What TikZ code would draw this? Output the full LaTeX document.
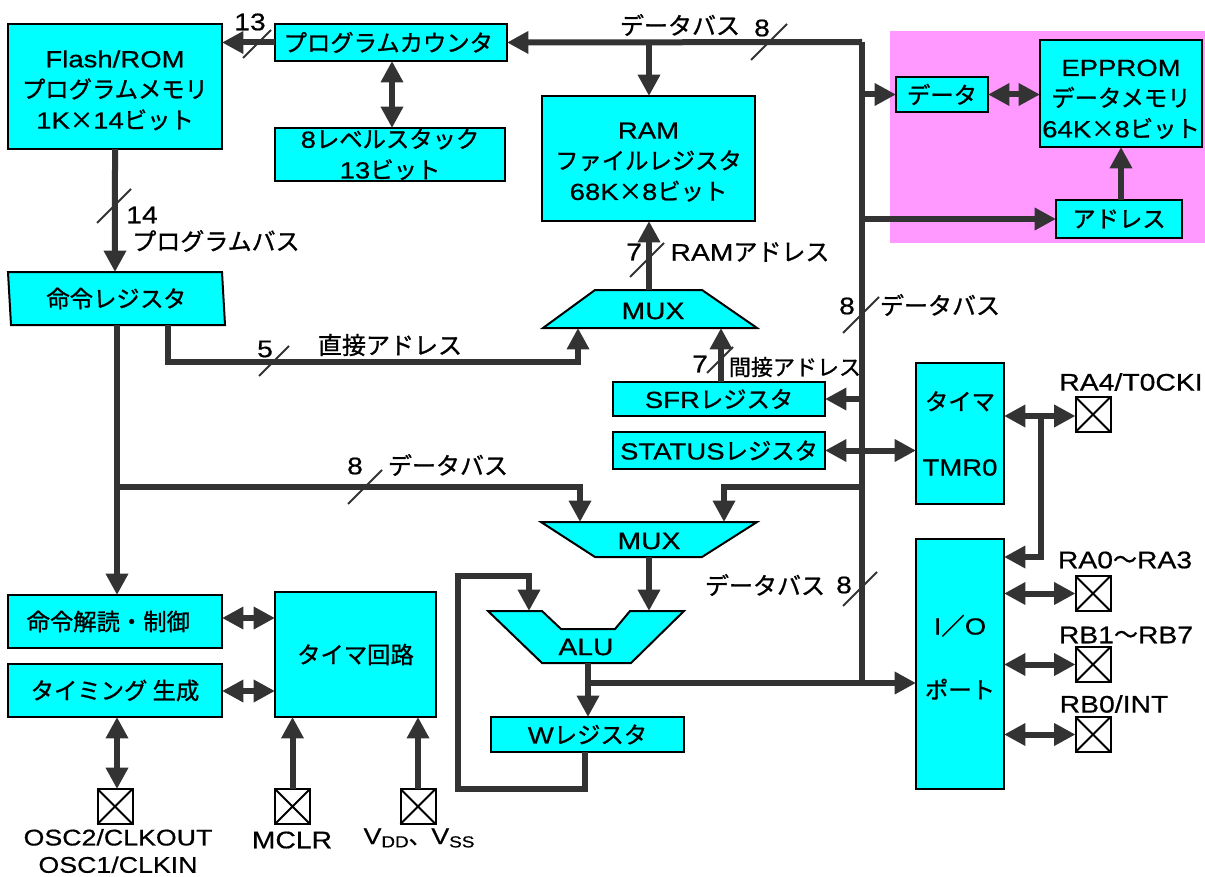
\documentclass[tikz,border=0pt]{standalone}
\usepackage{fontspec}
\setmainfont{Noto Sans CJK JP}[FakeBold=1]
\newfontfamily\latnfont{Liberation Sans}[FakeStretch=1.18,FakeBold=0.6]
\usepackage{xcolor}
\usetikzlibrary{arrows.meta}
\definecolor{blkcyan}{HTML}{00FFFF}
\definecolor{buscol}{HTML}{333333}
\definecolor{eepink}{HTML}{FF99FF}
\def\px{0.75pt}
\newcommand{\ltn}[1]{{\latnfont #1}}
\newcommand{\lowtxt}[1]{\raisebox{-2.5pt}{\fontsize{12}{12}\latnfont #1}}
\newcommand{\dn}[1]{\rule{0pt}{#1}}

\begin{document}
\begin{tikzpicture}[x=0.75pt,y=-0.75pt,
        blk/.style={draw=black,fill=blkcyan,line width=1.5pt,inner sep=0pt,outer sep=0pt,align=center,
                    font=\fontsize{17.5}{23}\selectfont},
        sz/.style 2 args={minimum width=#1*\px,minimum height=#2*\px},
        poly/.style={draw=black,fill=blkcyan,line width=1.5pt,line join=miter},
        lbl/.style={inner sep=0pt,align=center,font=\fontsize{18}{21}\selectfont},
        bus/.style={draw=buscol,line width=4.5pt,-{Triangle[length=16pt,width=16pt]}},
        dbl/.style={draw=buscol,line width=4.5pt,{Triangle[length=16pt,width=16pt]}-{Triangle[length=16pt,width=16pt]}},
        wire/.style={draw=buscol,line width=4.5pt,line cap=square},
        slash/.style={draw=buscol,line width=1.5pt},
        pad/.style={draw=black,fill=white,line width=1.5pt,inner sep=0pt,outer sep=0pt,minimum size=35*\px}]
        \useasboundingbox (0,0) rectangle (1205,877);
        \fill[eepink] (890,31) rectangle (1205,243);

        % blocks
        \node[blk,sz={214}{125}] (flash) at (115,86.5) {\dn{18.5pt}\ltn{Flash/ROM}\\プログラムメモリ\\\ltn{1K}×\ltn{14}ビット};
        \node[blk,sz={232}{37}] (pc) at (391,42.5) {プログラムカウンタ\hspace{4pt}};
        \node[blk,sz={230}{53}] (stack) at (390,154.5) {\ltn{8}レベルスタック\\\ltn{13}ビット};
        \node[blk,sz={213}{125}] (ram) at (648.5,158.5) {\dn{17.5pt}\ltn{RAM}\\ファイルレジスタ\\\ltn{68K}×\ltn{8}ビット};
        \node[blk,sz={92}{35}] (dataport) at (942,94.5) {データ};
        \node[blk,sz={162}{107}] (eeprom) at (1121,93.5) {\dn{21pt}\ltn{EPPROM}\\データメモリ\\\ltn{64K}×\ltn{8}ビット};
        \node[blk,sz={126}{38}] (addrport) at (1119,219) {アドレス};
        \node[blk,sz={214}{53},xslant=-0.057,transform shape] (irreg) at (116.5,298.5) {命令レジスタ};
        \node[blk,sz={212}{34}] (sfr) at (719,399) {\ltn{SFR}レジスタ};
        \node[blk,sz={212}{37}] (status) at (719,450.5) {\ltn{STATUS}レジスタ};
        \node[blk,sz={88}{141},font=\fontsize{17.5}{49}\selectfont] (tmr) at (960,433.5) {タイマ\\\ltn{TMR0}};
        \node[blk,sz={88}{250},font=\fontsize{17.5}{48}\selectfont] (ioport) at (960,664) {\ltn{I}／\ltn{O}\\ポート\rule[-11pt]{0pt}{0pt}};
        \node[blk,sz={193}{35}] (wreg) at (587.5,734.5) {\ltn{W}レジスタ};
        \node[blk,sz={214}{53}] (decode) at (115,621.5) {命令解読・制御\hspace{10pt}};
        \node[blk,sz={214}{53}] (timing) at (115,690.5) {タイミング 生成};
        \node[blk,sz={161}{125}] (clock) at (355.5,654.5) {タイマ回路};

        % multiplexers and ALU
        \draw[poly] (543,328) -- (595,290) -- (702,290) -- (757,328) -- cycle;
        \node[lbl] (muxa) at (653,311) {\ltn{MUX}};
        \draw[poly] (541,522) -- (757,522) -- (702,557) -- (595,557) -- cycle;
        \node[lbl] (muxb) at (649,541) {\ltn{MUX}};
        \draw[poly] (488,611) -- (542,611) -- (561,629) -- (615,629) -- (630,611) -- (684,611) -- (631,663) -- (542,663) -- cycle;
        \node[lbl] (alu) at (586,647) {\ltn{ALU}};

        % pads
        \foreach \n/\x/\y in {posc/115/806.5,pmclr/292.5/806.5,pvdd/418/806.5,pra/1093/414.5,
                              prl/1093/593.5,prb/1093/664.5,pint/1093/734.5}{
          \node[pad] (\n) at (\x,\y) {};
          \draw[line width=1.5pt] (\n.north west)--(\n.south east) (\n.north east)--(\n.south west);
        }

        % junctions on the buses
        \coordinate (bustop) at (862,42);
        \coordinate (busend) at (862,683);
        \coordinate (ramin) at (649,42);
        \coordinate (ramout) at (649,290);
        \coordinate (sfrup) at (721,328);
        \coordinate (dirup) at (578,328);
        \coordinate (dirbox) at (168,325);
        \coordinate (irdown) at (117,325);
        \coordinate (busleft) at (117,487);
        \coordinate (muxl) at (580,522);
        \coordinate (muxr) at (724,522);
        \coordinate (busright) at (862,487);
        \coordinate (aluin) at (529,611);
        \coordinate (aluinb) at (649,611);
        \coordinate (muxout) at (649,557);
        \coordinate (aluout) at (588,663);
        \coordinate (aluport) at (588,683);
        \coordinate (wout) at (585,752);
        \coordinate (tmrj) at (1041,416);

        % connectors
        \draw[wire] (bustop) -- (busend);
        \draw[bus] (pc.west) -- (flash.east |- pc.west);
        \draw[bus] (bustop) -- (pc.east);
        \draw[bus] (ramin) -- (ram.north -| ramin);
        \draw[dbl] (pc.south -| 392,0) -- (stack.north -| 392,0);
        \draw[bus] (flash.south) -- (irreg.north);
        \draw[bus] (irdown) -- (decode.north -| irdown);
        \draw[bus] (dirbox) |- (578,362) -- (dirup);
        \draw[bus] (ramout) -- (ram.south -| ramout);
        \draw[bus] (sfr.north -| sfrup) -- (sfrup);
        \draw[bus] (bustop |- sfr.east) -- (sfr.east);
        \draw[dbl] (status.east) -- (tmr.west |- status.east);
        \draw[bus] (busleft) -| (muxl);
        \draw[bus] (busright) -| (muxr);
        \draw[bus] (muxout) -- (aluinb);
        \draw[bus] (aluout) -- (wreg.north -| aluout);
        \draw[bus] (aluport) -- (ioport.west |- aluport);
        \draw[bus] (wout) |- (458,789) |- (529,576) -- (aluin);
        \draw[dbl] (decode.east |- 0,618) -- (clock.west |- 0,618);
        \draw[dbl] (timing.east |- 0,691) -- (clock.west |- 0,691);
        \draw[dbl] (timing.south -| 117,0) -- (posc.north -| 117,0);
        \draw[bus] (pmclr.north) -- (clock.south -| pmclr.north);
        \draw[bus] (pvdd.north) -- (clock.south -| pvdd.north);
        \draw[dbl] (tmr.east |- tmrj) -- (pra.west |- tmrj);
        \draw[bus] (tmrj) |- (ioport.east |- 0,557);
        \draw[dbl] (ioport.east |- prl.west) -- (prl.west);
        \draw[dbl] (ioport.east |- prb.west) -- (prb.west);
        \draw[dbl] (ioport.east |- pint.west) -- (pint.west);
        \draw[bus] (bustop |- dataport.west) -- (dataport.west);
        \draw[bus] (bustop |- addrport.west) -- (addrport.west);
        \draw[bus] (addrport.north -| 1121,0) -- (eeprom.south -| 1121,0);
        \draw[dbl] (dataport.east) -- (eeprom.west |- dataport.east);

        % bus width marks
        \foreach \x/\y/\r in {257/44/14,114/206/17,769/42/18,647/260/17,720/360/13,
                              274/361/15,861/315/18,365/487/17,860/589/17}{
          \draw[slash] (\x-\r,\y+\r) -- (\x+\r,\y-\r);
        }

        % labels
        \node[lbl] (l13) at (250,22) {\ltn{13}};
        \node[lbl] (l14) at (142,215) {\ltn{14}};
        \node[lbl] (lpbus) at (216,241) {プログラムバス};
        \node[lbl] (ldbusa) at (680,25) {データバス};
        \node[lbl] (l8a) at (762,28) {\ltn{8}};
        \node[lbl] (l7a) at (634,252) {\ltn{7}};
        \node[lbl] (lram) at (750,252) {\ltn{RAM}アドレス};
        \node[lbl] (l8b) at (847,306) {\ltn{8}};
        \node[lbl] (ldbusb) at (940,305) {データバス};
        \node[lbl] (l5) at (265,349) {\ltn{5}};
        \node[lbl] (ldir) at (390,345) {直接アドレス};
        \node[lbl] (l7b) at (700,364) {\ltn{7}};
        \node[lbl,font=\fontsize{16.5}{18}\selectfont] (lind) at (795,367) {間接アドレス};
        \node[lbl] (l8c) at (355,466) {\ltn{8}};
        \node[lbl] (ldbusc) at (448,465) {データバス};
        \node[lbl] (ldbusd) at (765,585) {データバス};
        \node[lbl] (l8d) at (844,585) {\ltn{8}};
        \node[lbl] (lra) at (1131,382) {\ltn{RA4/T0CKI}};
        \node[lbl] (lrl) at (1125,560) {\ltn{RA0}～\ltn{RA3}};
        \node[lbl] (lrb) at (1126,635) {\ltn{RB1}～\ltn{RB7}};
        \node[lbl] (lint) at (1114,704) {\ltn{RB0/INT}};
        \node[lbl,font=\fontsize{17}{20.5}\selectfont] (losc) at (118,851) {\ltn{OSC2/CLKOUT}\\\ltn{OSC1/CLKIN}};
        \node[lbl] (lmclr) at (292,840) {\ltn{MCLR}};
        \node[lbl,font=\fontsize{17}{20}\selectfont] (lvdd) at (419,838) {\ltn{V}\lowtxt{DD}、\ltn{V}\lowtxt{SS}};
\end{tikzpicture}
\end{document}
